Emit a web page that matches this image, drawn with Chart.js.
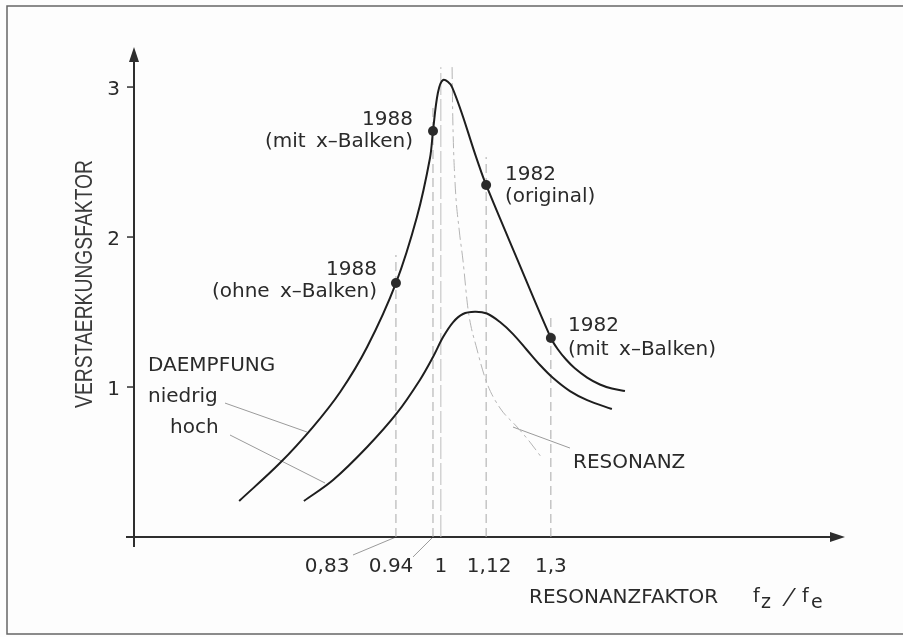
<!DOCTYPE html>
<html><head><meta charset="utf-8">
<script src="https://cdn.jsdelivr.net/npm/chart.js@4/dist/chart.umd.min.js"></script>
<style>html,body{margin:0;padding:0;background:#fdfdfd;}#wrap{width:903px;height:637px;}</style>
</head><body><div id="wrap"><canvas id="c" width="903" height="637"></canvas></div>
<script>
// ---- data (x in drawn axis units of f_z/f_e, y = Verstaerkungsfaktor) ----
const lowDampX  = [0.461, 0.570, 0.658, 0.731, 0.803, 0.880, 0.936, 0.971, 0.979, 0.992, 1.006, 1.030, 1.097, 1.121, 1.204, 1.294, 1.313, 1.334, 1.358, 1.391, 1.425, 1.457, 1.492];
const lowDampY  = [0.240, 0.493, 0.733, 0.967, 1.267, 1.693, 2.133, 2.527, 2.707, 2.960, 3.047, 3.000, 2.513, 2.347, 1.853, 1.327, 1.250, 1.185, 1.125, 1.063, 1.017, 0.990, 0.973];
const highDampX = [0.634, 0.712, 0.803, 0.883, 0.944, 0.979, 1.006, 1.033, 1.059, 1.091, 1.123, 1.158, 1.193, 1.230, 1.265, 1.300, 1.345, 1.391, 1.457];
const highDampY = [0.240, 0.380, 0.600, 0.827, 1.047, 1.200, 1.333, 1.433, 1.487, 1.502, 1.490, 1.433, 1.353, 1.247, 1.147, 1.060, 0.973, 0.913, 0.853];
const resX      = [1.030, 1.032, 1.038, 1.049, 1.059, 1.073, 1.097, 1.123, 1.158, 1.204, 1.238, 1.270];
const resY      = [3.133, 2.780, 2.360, 2.047, 1.847, 1.513, 1.247, 1.027, 0.860, 0.733, 0.633, 0.527];
const dotX      = [0.880, 0.979, 1.121, 1.294];
const dotY      = [1.693, 2.707, 2.347, 1.327];
const dotNames  = [['1988','(ohne x–Balken)'], ['1988','(mit x–Balken)'], ['1982','(original)'], ['1982','(mit x–Balken)']];
const markerX   = [0.880, 0.979, 1.000, 1.121, 1.294];
const markerTop = [1.880, 2.867, 3.133, 2.533, 1.467];
const xTickLabels = ['0,83', '0.94', '1', '1,12', '1,3'];
const yTicks    = [1, 2, 3];
const yTickLabels = ['1', '2', '3'];

// ---- layout (positions in axis units, kept apart from data) ----
const X_MIN = 0.18, X_MAX = 2.08, Y_MIN = 0, Y_MAX = 3.267;
const xTickLabelPos = [0.696, 0.867, 1.0, 1.129, 1.294];
const dotLabelLayout = [
  {x: 0.8294, y1: 1.7467, y2: 1.600, align: 'right'},
  {x: 0.9256, y1: 2.7467, y2: 2.600, align: 'right'},
  {x: 1.1715, y1: 2.380,  y2: 2.2333, align: 'left'},
  {x: 1.3398, y1: 1.3733, y2: 1.2133, align: 'left'}
];
const freeLabels = [
  {t: 'DAEMPFUNG', x: 0.2174, y: 1.1067},
  {t: 'niedrig',   x: 0.2174, y: 0.900},
  {t: 'hoch',      x: 0.2762, y: 0.6933},
  {t: 'RESONANZ',  x: 1.3532, y: 0.460}
];
const leaders = [
  [[0.4232, 0.893], [0.6423, 0.700]],
  [[0.4365, 0.680], [0.6904, 0.360]],
  [[1.3451, 0.593], [1.1928, 0.733]],
  [[0.7652, -0.120], [0.880, 0.0]],
  [[0.9256, -0.133], [0.979, 0.0]]
];

const pts = (xs, ys) => xs.map((x, i) => ({x, y: ys[i]}));
const INK = '#2a2a2a';
const FONT = "20px 'DejaVu Sans'";

const markerSets = markerX.map((x, i) => ({
  data: [{x, y: 0}, {x, y: markerTop[i]}],
  showLine: true, borderColor: i === 2 ? '#bdbdbd' : '#a8a8a8', borderWidth: 1,
  borderDash: i === 2 ? [22, 4] : [9, 5], pointRadius: 0, order: 5, clip: false
}));

const datasets = [
  {data: pts(dotX, dotY), showLine: false, pointRadius: 5, pointBackgroundColor: '#2b2b2b', pointBorderWidth: 0, order: 0, clip: false},
  {data: pts(lowDampX, lowDampY), showLine: true, borderColor: '#1e1e1e', borderWidth: 2, pointRadius: 0, tension: 0.35, order: 1, clip: false},
  {data: pts(highDampX, highDampY), showLine: true, borderColor: '#1e1e1e', borderWidth: 2, pointRadius: 0, tension: 0.35, order: 1, clip: false},
  {data: pts(resX, resY), showLine: true, borderColor: '#b4b4b4', borderWidth: 1, borderDash: [12, 4, 3, 4], pointRadius: 0, cubicInterpolationMode: 'monotone', order: 4, clip: false},
  ...markerSets
];

const decor = {
  id: 'decor',
  beforeDatasetsDraw(chart) {
    const ctx = chart.ctx, xs = chart.scales.x, ys = chart.scales.y;
    const x0 = xs.getPixelForValue(X_MIN), y0 = ys.getPixelForValue(0);
    const xE = xs.getPixelForValue(X_MAX), yE = ys.getPixelForValue(Y_MAX);
    ctx.save();
    // frame
    ctx.strokeStyle = '#666'; ctx.lineWidth = 1.5;
    ctx.beginPath(); ctx.moveTo(903, 6); ctx.lineTo(7, 6); ctx.lineTo(7, 634); ctx.lineTo(903, 634); ctx.stroke();
    // leaders
    ctx.strokeStyle = '#9a9a9a'; ctx.lineWidth = 1;
    leaders.forEach(l => {
      ctx.beginPath();
      ctx.moveTo(xs.getPixelForValue(l[0][0]), ys.getPixelForValue(l[0][1]));
      ctx.lineTo(xs.getPixelForValue(l[1][0]), ys.getPixelForValue(l[1][1]));
      ctx.stroke();
    });
    // axes
    ctx.strokeStyle = '#2e2e2e'; ctx.fillStyle = '#2e2e2e'; ctx.lineWidth = 2;
    ctx.beginPath(); ctx.moveTo(x0, y0 + 10); ctx.lineTo(x0, yE + 12); ctx.stroke();
    ctx.beginPath(); ctx.moveTo(x0 - 8, y0); ctx.lineTo(xE - 12, y0); ctx.stroke();
    ctx.beginPath(); ctx.moveTo(x0, yE); ctx.lineTo(x0 - 5, yE + 15); ctx.lineTo(x0 + 5, yE + 15); ctx.closePath(); ctx.fill();
    ctx.beginPath(); ctx.moveTo(xE, y0); ctx.lineTo(xE - 15, y0 - 5); ctx.lineTo(xE - 15, y0 + 5); ctx.closePath(); ctx.fill();
    ctx.lineWidth = 1.5;
    yTicks.forEach(v => {
      const py = ys.getPixelForValue(v);
      ctx.beginPath(); ctx.moveTo(x0 - 7, py); ctx.lineTo(x0, py); ctx.stroke();
    });
    ctx.restore();
  },
  afterDatasetsDraw(chart) {
    const ctx = chart.ctx, xs = chart.scales.x, ys = chart.scales.y;
    const x0 = xs.getPixelForValue(X_MIN), y0 = ys.getPixelForValue(0);
    ctx.save();
    ctx.fillStyle = INK; ctx.font = FONT; ctx.textBaseline = 'alphabetic';
    ctx.wordSpacing = '4px';
    // y tick labels
    ctx.textAlign = 'right';
    yTicks.forEach((v, i) => ctx.fillText(yTickLabels[i], x0 - 14, ys.getPixelForValue(v) + 8));
    // x tick labels
    ctx.textAlign = 'center';
    xTickLabels.forEach((s, i) => ctx.fillText(s, xs.getPixelForValue(xTickLabelPos[i]), y0 + 35));
    // dot labels
    dotNames.forEach((n, i) => {
      const L = dotLabelLayout[i];
      ctx.textAlign = L.align;
      const px = xs.getPixelForValue(L.x);
      ctx.fillText(n[0], px, ys.getPixelForValue(L.y1));
      ctx.fillText(n[1], px, ys.getPixelForValue(L.y2));
    });
    ctx.textAlign = 'left';
    freeLabels.forEach(l => ctx.fillText(l.t, xs.getPixelForValue(l.x), ys.getPixelForValue(l.y)));
    // x title
    ctx.fillText('RESONANZFAKTOR', xs.getPixelForValue(1.2355), y0 + 66);
    ctx.font = "19px 'DejaVu Sans'";
    ctx.fillText('f', 753, y0 + 65);
    ctx.fillText('z', 761, y0 + 71);
    ctx.font = "22px 'DejaVu Sans'";
    ctx.save(); ctx.translate(787, y0 + 67); ctx.transform(1, 0, -0.35, 1, 0, 0); ctx.fillText('/', -4, 0); ctx.restore();
    ctx.font = "19px 'DejaVu Sans'";
    ctx.fillText('f', 802, y0 + 65);
    ctx.fillText('e', 811, y0 + 71);
    // y title
    ctx.save();
    ctx.font = "23px 'Liberation Sans'"; ctx.fillStyle = '#3a3a3a'; ctx.textAlign = 'center';
    ctx.translate(x0 - 42, ys.getPixelForValue(1.687));
    ctx.rotate(-Math.PI / 2);
    ctx.fillText('VERSTAERKUNGSFAKTOR', 0, 0, 248);
    ctx.restore();
    ctx.restore();
  }
};

new Chart(document.getElementById('c'), {
  type: 'scatter',
  data: {datasets},
  options: {
    responsive: false, animation: false, devicePixelRatio: 1,
    layout: {padding: {left: 134, right: 58, top: 47, bottom: 100}},
    scales: {
      x: {type: 'linear', min: X_MIN, max: X_MAX, display: false},
      y: {type: 'linear', min: Y_MIN, max: Y_MAX, display: false}
    },
    plugins: {legend: {display: false}, tooltip: {enabled: false}}
  },
  plugins: [decor]
});
</script>
</body></html>
